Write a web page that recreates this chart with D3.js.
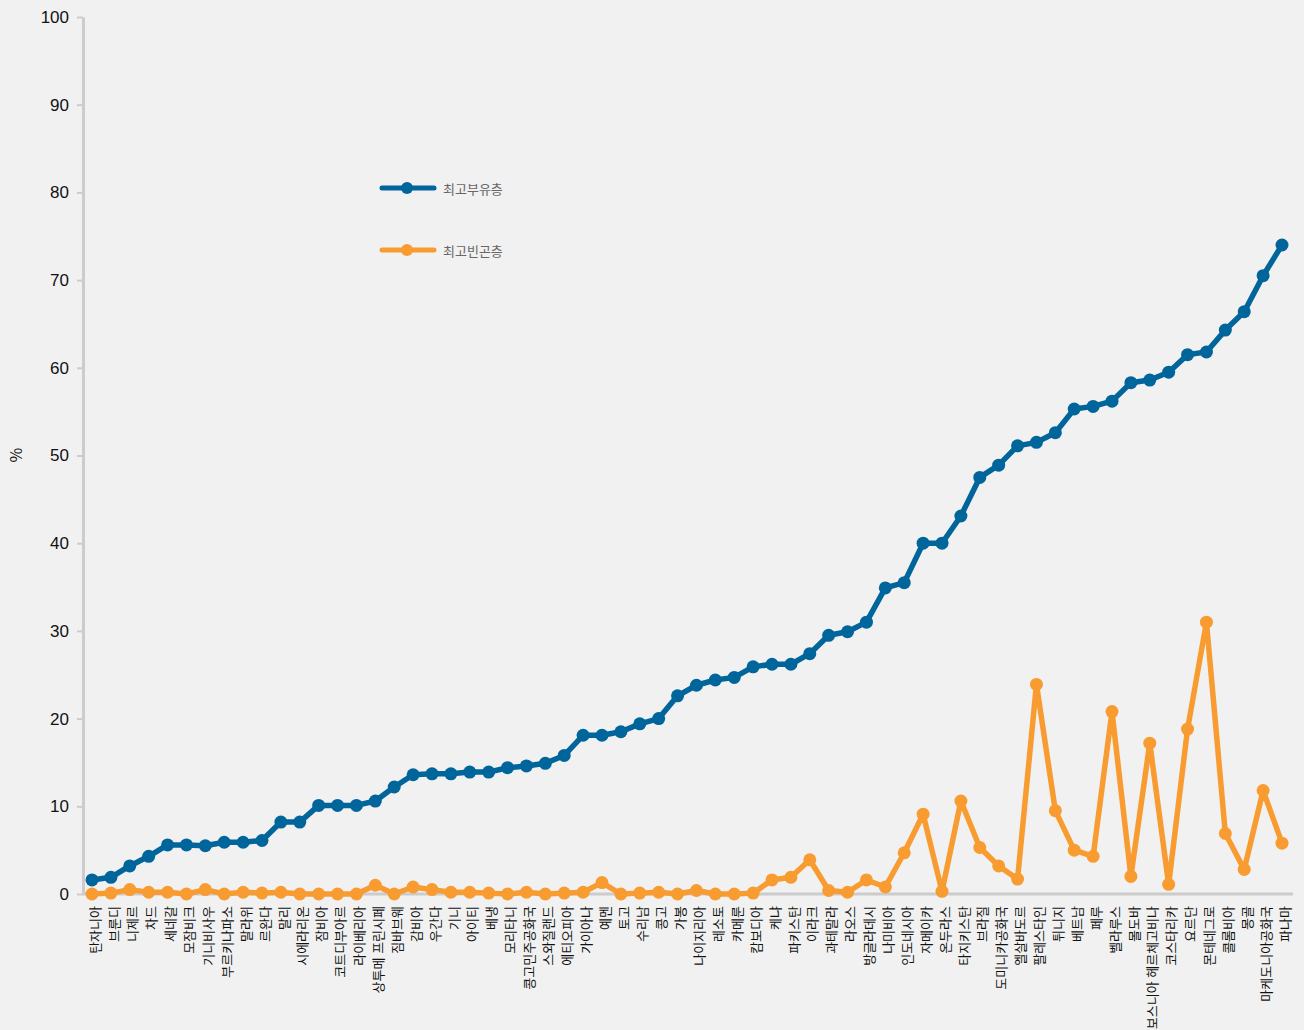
<!DOCTYPE html>
<html lang="ko">
	<head>
		<meta charset="utf-8">
		<title>최고부유층 / 최고빈곤층</title>
		<script type="text/javascript" src="https://cdn.jsdelivr.net/npm/d3@7"></script>
		<style type="text/css">
			body {
				margin: 0;
				background-color: #f1f1f1;
			}
			svg {
				display: block;
				font-family: "Liberation Sans Narrow", "Noto Sans CJK KR", sans-serif;
			}
			.axis path, .axis line {
				stroke: #cccccc;
			}
		</style>
	</head>
	<body>
		<script type="text/javascript">
			//Countries, in chart order
			var countries = ["탄자니아", "브룬디", "니제르", "차드", "세네갈", "모잠비크", "기니비사우", "부르키나파소",
				"말라위", "르완다", "말리", "시에라리온", "잠비아", "코트디부아르", "라이베리아", "상투메 프린시페",
				"짐바브웨", "감비아", "우간다", "기니", "아이티", "베냉", "모리타니", "콩고민주공화국",
				"스와질랜드", "에티오피아", "가이아나", "예멘", "토고", "수리남", "콩고", "가봉",
				"나이지리아", "레소토", "카메룬", "캄보디아", "케냐", "파키스탄", "이라크", "과테말라",
				"라오스", "방글라데시", "나미비아", "인도네시아", "자메이카", "온두라스", "타지키스탄", "브라질",
				"도미니카공화국", "엘살바도르", "팔레스타인", "튀니지", "베트남", "페루", "벨라루스", "몰도바",
				"보스니아 헤르체고비나", "코스타리카", "요르단", "몬테네그로", "콜롬비아", "몽골", "마케도니아공화국", "파나마"];

			//최고부유층 (%)
			var richest = [1.6, 1.9, 3.2, 4.3, 5.6, 5.6, 5.5, 5.9,
				5.9, 6.1, 8.2, 8.2, 10.1, 10.1, 10.1, 10.6,
				12.2, 13.6, 13.7, 13.7, 13.9, 13.9, 14.4, 14.6,
				14.9, 15.8, 18.1, 18.1, 18.5, 19.4, 20.0, 22.6,
				23.8, 24.4, 24.7, 25.9, 26.2, 26.2, 27.4, 29.5,
				29.9, 31.0, 34.9, 35.5, 40.0, 40.0, 43.1, 47.5,
				48.9, 51.1, 51.5, 52.6, 55.3, 55.6, 56.2, 58.3,
				58.6, 59.5, 61.5, 61.8, 64.3, 66.4, 70.5, 74.0];

			//최고빈곤층 (%)
			var poorest = [0.0, 0.1, 0.5, 0.2, 0.2, 0.0, 0.5, 0.0,
				0.2, 0.1, 0.2, 0.0, 0.0, 0.0, 0.0, 1.0,
				0.0, 0.8, 0.5, 0.2, 0.2, 0.1, 0.0, 0.2,
				0.0, 0.1, 0.2, 1.3, 0.0, 0.1, 0.2, 0.0,
				0.4, 0.0, 0.0, 0.1, 1.6, 1.9, 3.9, 0.4,
				0.2, 1.6, 0.8, 4.7, 9.1, 0.3, 10.6, 5.3,
				3.2, 1.7, 23.9, 9.5, 5.0, 4.3, 20.8, 2.0,
				17.2, 1.1, 18.8, 31.0, 6.9, 2.8, 11.8, 5.8];

			//Y tick labels
			var yTicks = [0, 10, 20, 30, 40, 50, 60, 70, 80, 90, 100];

			var seriesNames = ["최고부유층", "최고빈곤층"];
			var seriesColors = ["#00659b", "#f89c32"];

			//Width and height
			var w = 1304;
			var h = 1030;
			var axisLeftX = 83;
			var axisRightX = 1293;

			var svg = d3.select("body")
						.append("svg")
						.attr("width", w)
						.attr("height", h);

			//Scales
			var xScale = d3.scalePoint()
						   .domain(countries)
						   .range([92, 1282]);
			var yScale = d3.scaleLinear()
						   .domain([0, 100])
						   .range([894, 17]);

			//Y axis
			var yAxis = d3.axisLeft(yScale)
						  .tickValues(yTicks)
						  .tickSize(6)
						  .tickSizeOuter(0)
						  .tickPadding(8);
			var gy = svg.append("g")
				.attr("class", "axis")
				.attr("transform", "translate(" + axisLeftX + ",0)")
				.call(yAxis);
			gy.select(".domain").attr("stroke-width", 3);
			gy.selectAll(".tick line").attr("stroke-width", 2);
			gy.selectAll(".tick text")
				.attr("fill", "#111")
				.style("font-size", "17px");

			//Y axis title
			svg.append("text")
				.attr("transform", "translate(22,455) rotate(-90)")
				.attr("text-anchor", "middle")
				.attr("fill", "#111")
				.style("font-size", "16px")
				.text("%");

			//X axis
			var xAxis = d3.axisBottom(xScale)
						  .tickSize(0)
						  .tickSizeOuter(0);
			var gx = svg.append("g")
				.attr("class", "axis")
				.attr("transform", "translate(0,894)")
				.call(xAxis);
			gx.select(".domain")
				.attr("d", "M" + axisLeftX + ",0H" + axisRightX)
				.attr("stroke-width", 3);
			gx.selectAll(".tick text")
				.attr("transform", "rotate(-90)")
				.attr("x", -12)
				.attr("y", 0)
				.attr("dy", "0.55em")
				.attr("text-anchor", "end")
				.attr("fill", "#111")
				.style("font-family", "'Noto Sans CJK KR', sans-serif")
				.style("font-size", "13px");

			//Lines and dots
			var seriesData = [richest, poorest];
			var line = d3.line()
						 .x(function(d, i) { return xScale(countries[i]); })
						 .y(function(d) { return yScale(d); });

			//Draw poorest first so richest sits on top
			[1, 0].forEach(function(s) {
				svg.append("path")
					.datum(seriesData[s])
					.attr("fill", "none")
					.attr("stroke", seriesColors[s])
					.attr("stroke-width", 5.5)
					.attr("stroke-linejoin", "round")
					.attr("d", line);
				svg.selectAll("circle.s" + s)
					.data(seriesData[s])
					.enter()
					.append("circle")
					.attr("class", "s" + s)
					.attr("cx", function(d, i) { return xScale(countries[i]); })
					.attr("cy", function(d) { return yScale(d); })
					.attr("r", 6.5)
					.attr("fill", seriesColors[s]);
			});

			//Legend
			var legend = svg.selectAll("g.legend")
				.data(seriesNames)
				.enter()
				.append("g")
				.attr("class", "legend")
				.attr("transform", function(d, i) { return "translate(380," + (188 + i * 62) + ")"; });
			legend.append("line")
				.attr("x1", 2)
				.attr("x2", 54)
				.attr("stroke", function(d, i) { return seriesColors[i]; })
				.attr("stroke-width", 5)
				.attr("stroke-linecap", "round");
			legend.append("circle")
				.attr("cx", 27)
				.attr("r", 6)
				.attr("fill", function(d, i) { return seriesColors[i]; });
			legend.append("text")
				.attr("x", 63)
				.attr("y", 6)
				.attr("fill", "#666")
				.style("font-family", "'Noto Sans CJK KR', sans-serif")
				.style("font-size", "13px")
				.text(function(d) { return d; });
		</script>
	</body>
</html>
